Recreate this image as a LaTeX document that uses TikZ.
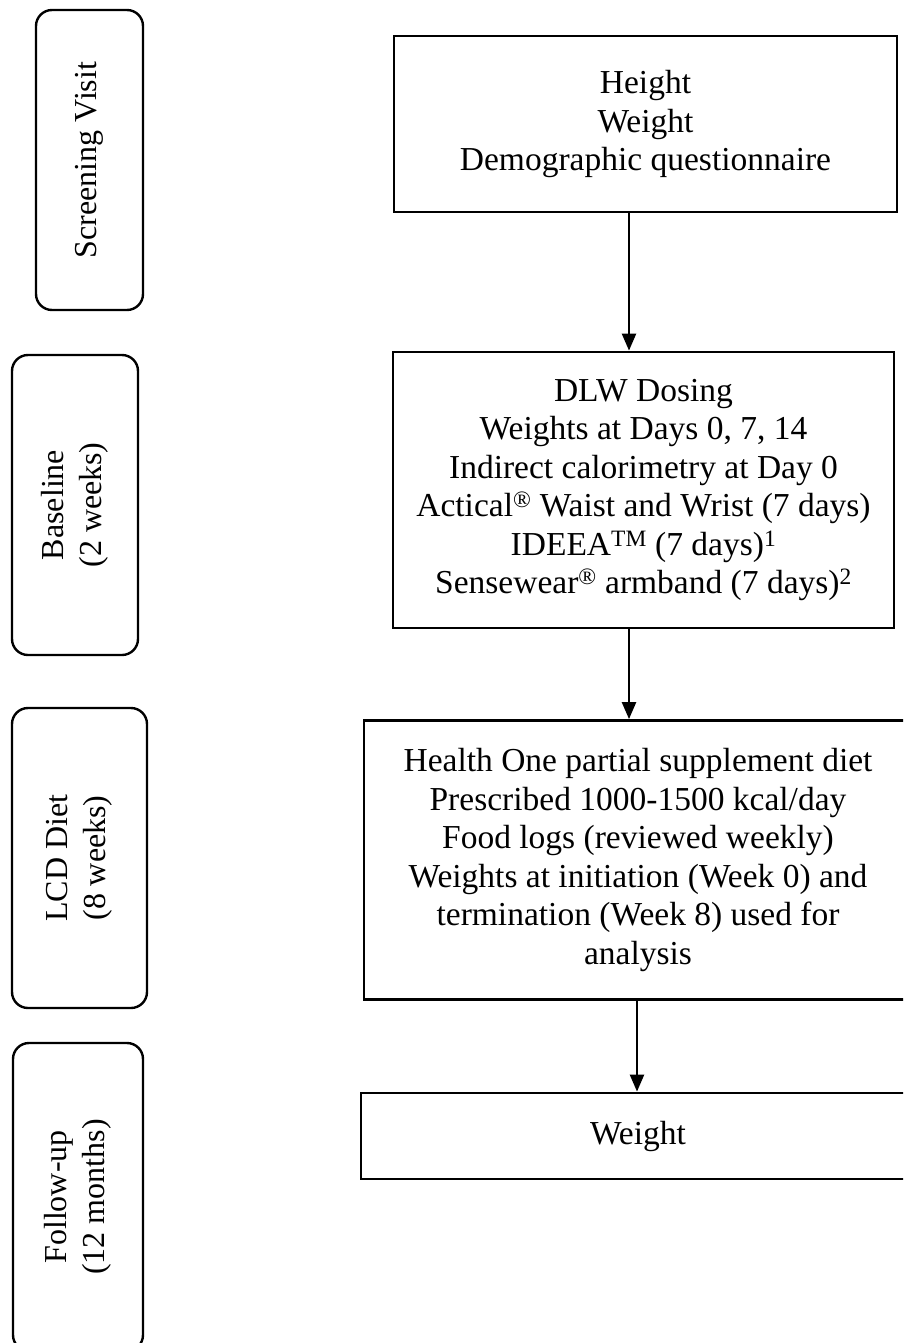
\documentclass[tikz,border=0pt]{standalone}
\usepackage{fontspec}
\setmainfont{Liberation Serif}
\usetikzlibrary{arrows.meta}

\begin{document}
\begin{tikzpicture}[x=1pt, y=-1pt,
  phase/.style={draw, line width=2.4pt, rounded corners=16pt, rotate=90, align=center, inner sep=0pt, font=\fontsize{32}{38}\selectfont},
  stepbox/.style={draw, line width=2.8pt, rectangle, align=center, inner sep=0pt, font=\fontsize{33.5}{38.5}\selectfont},
  flow/.style={line width=2.4pt, -{Triangle[width=14pt, length=17pt]}}]
  \clip (0,0) rectangle (903,1343);
  \fill[white] (0,0) rectangle (903,1343);

  % study phases
  \node[phase, minimum width=300, minimum height=107] (screen) at (89.5,160) {Screening Visit};
  \node[phase, minimum width=300, minimum height=126] (base) at (75,505) {Baseline\\(2 weeks)};
  \node[phase, minimum width=300, minimum height=135] (lcd) at (79.5,858) {LCD Diet\\(8 weeks)};
  \node[phase, minimum width=308, minimum height=130] (follow) at (78,1197) {Follow-up\\(12 months)};

  % measurements
  \node[stepbox, minimum width=503, minimum height=176] (measure) at (645.5,124) {Height\\Weight\\Demographic questionnaire};
  \node[stepbox, minimum width=501, minimum height=276] (dosing) at (643.5,490) {DLW Dosing\\Weights at Days 0, 7, 14\\Indirect calorimetry at Day 0\\Actical\textsuperscript{®} Waist and Wrist (7 days)\\IDEEA\textsuperscript{TM} (7 days)\textsuperscript{1}\\Sensewear\textsuperscript{®} armband (7 days)\textsuperscript{2}};
  \node[stepbox, minimum width=548, minimum height=279] (diet) at (638,860) {Health One partial supplement diet\\Prescribed 1000-1500 kcal/day\\Food logs (reviewed weekly)\\Weights at initiation (Week 0) and\\termination (Week 8) used for\\analysis};
  \node[stepbox, minimum width=554, minimum height=86] (weight) at (638,1136) {Weight};

  % arrows
  \coordinate (ax) at (629,0);
  \coordinate (bx) at (637,0);
  \draw[flow] (measure.south -| ax) -- (dosing.north -| ax);
  \draw[flow] (dosing.south -| ax) -- (diet.north -| ax);
  \draw[flow] (diet.south -| bx) -- (weight.north -| bx);
\end{tikzpicture}
\end{document}
